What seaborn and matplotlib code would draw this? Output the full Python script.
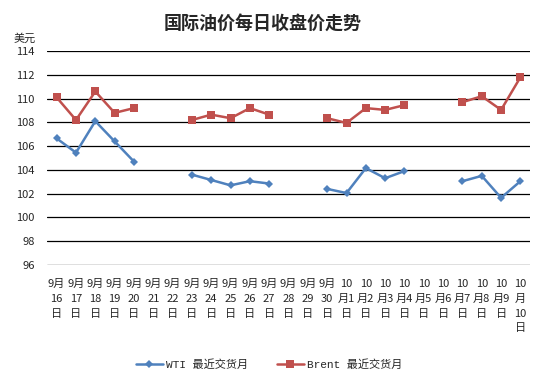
import numpy as np
import pandas as pd
import matplotlib
matplotlib.use("Agg")
import matplotlib.pyplot as plt
import seaborn as sns
from matplotlib.lines import Line2D

sns.set_style("white")
plt.rcParams['font.family'] = ['Noto Sans CJK SC', 'DejaVu Sans']

dates = ["9月\n16\n日", "9月\n17\n日", "9月\n18\n日", "9月\n19\n日", "9月\n20\n日",
         "9月\n21\n日", "9月\n22\n日", "9月\n23\n日", "9月\n24\n日", "9月\n25\n日",
         "9月\n26\n日", "9月\n27\n日", "9月\n28\n日", "9月\n29\n日", "9月\n30\n日",
         "10\n月1\n日", "10\n月2\n日", "10\n月3\n日", "10\n月4\n日", "10\n月5\n日",
         "10\n月6\n日", "10\n月7\n日", "10\n月8\n日", "10\n月9\n日", "10\n月\n10\n日"]
nan = np.nan
wti = [106.65, 105.45, 108.1, 106.4, 104.7, nan, nan, 103.6, 103.15, 102.7, 103.05, 102.85,
       nan, nan, 102.4, 102.05, 104.15, 103.3, 103.9, nan, nan, 103.05, 103.5, 101.65, 103.05]
brent = [110.1, 108.2, 110.6, 108.8, 109.2, nan, nan, 108.2, 108.65, 108.35, 109.2, 108.65,
         nan, nan, 108.35, 107.95, 109.2, 109.05, 109.45, nan, nan, 109.7, 110.2, 109.05, 111.8]
series_names = ["WTI 最近交货月", "Brent 最近交货月"]
yticks = list(range(96, 115, 2))

colors = {series_names[0]: "#4F81BD", series_names[1]: "#C0504D"}
markers = {series_names[0]: "D", series_names[1]: "s"}

rows = []
for name, vals in zip(series_names, [wti, brent]):
    seg = 0
    prev_nan = False
    for i, v in enumerate(vals):
        if np.isnan(v):
            prev_nan = True
            continue
        if prev_nan:
            seg += 1
            prev_nan = False
        rows.append({"pos": i, "value": v, "series": name, "seg": seg})
df = pd.DataFrame(rows)

fig = plt.figure(figsize=(5.44, 3.84), dpi=100)
ax = fig.add_axes([0.0864, 0.310, 0.888, 0.557])

for name in series_names:
    sub = df[df.series == name]
    ms = 4.5 if markers[name] == "D" else 5.5
    sns.lineplot(data=sub, x="pos", y="value", units="seg", estimator=None,
                 color=colors[name], marker=markers[name], markersize=ms,
                 markeredgewidth=0, linewidth=1.8, ax=ax, legend=False)

ax.set_ylim(96, 114)
ax.set_xlim(-0.5, len(dates) - 0.5)
ax.set_yticks(yticks)
ax.set_yticklabels([str(t) for t in yticks], fontsize=8)
ax.set_xticks(range(len(dates)))
ax.set_xticklabels(dates, fontsize=8, linespacing=1.6, va="top")
ax.tick_params(axis="x", length=0, pad=10)
ax.tick_params(axis="y", length=0, pad=9)
ax.set_xlabel("")
ax.set_ylabel("")
for s in ax.spines.values():
    s.set_visible(False)
for t in yticks:
    ax.axhline(t, color="black", linewidth=0.9, zorder=0)

fig.text(0.482, 0.94, "国际油价每日收盘价走势", ha="center", va="center",
         fontsize=13, fontweight="bold")
fig.text(0.046, 0.90, "美元", ha="center", va="center", fontsize=8)

handles = [Line2D([0], [0], color=colors[n], marker=markers[n],
                  markersize=4.5 if markers[n] == "D" else 5.5, markeredgewidth=0,
                  linewidth=1.8) for n in series_names]
leg = fig.legend(handles, series_names, loc="center", bbox_to_anchor=(0.495, 0.05),
                 ncol=2, frameon=False, handlelength=2.4,
                 columnspacing=2.6, handletextpad=0.3,
                 prop={"family": ["Liberation Mono", "Noto Sans CJK SC"], "size": 8})

fig.savefig("out.png", dpi=100)
